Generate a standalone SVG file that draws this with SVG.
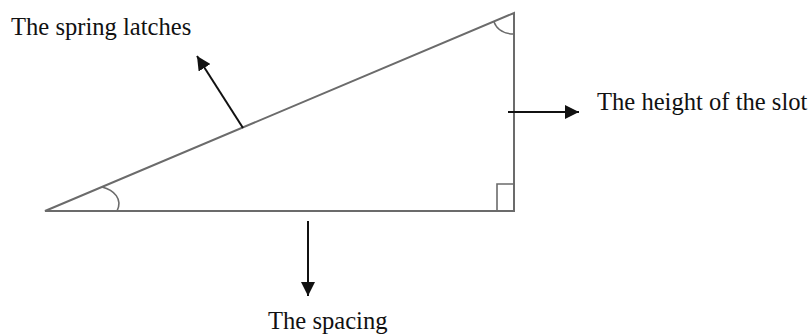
<svg xmlns="http://www.w3.org/2000/svg" width="809" height="336" viewBox="0 0 809 336">
<style>
.shape{fill:none;stroke:#6b6b6b;stroke-width:2}
.thin{fill:none;stroke:#6b6b6b;stroke-width:1.6}
.conn{fill:none;stroke:#111;stroke-width:2}
.lbl{font-family:"Liberation Serif","Times New Roman",serif;font-size:24.6px;fill:#111}
</style>
<defs>
<marker id="ah" markerUnits="userSpaceOnUse" markerWidth="16" markerHeight="14" refX="14" refY="7" orient="auto">
<path d="M0,0 L14,7 L0,14 Z" fill="#111"/>
</marker>
</defs>
<rect width="809" height="336" fill="#fff"/>
<g id="triangle">
<path class="shape" d="M45,211 L514,211 L514,13 Z"/>
<path class="thin" d="M102,187 C114,190 123,199 117,211"/>
<path class="thin" d="M494,22 C497,30 505,34 514,34"/>
<path class="thin" d="M514,184 L497,184 L497,211"/>
</g>
<g id="connectors">
<line class="conn" x1="243" y1="128" x2="197" y2="56" marker-end="url(#ah)"/>
<line class="conn" x1="508" y1="112" x2="579" y2="112" marker-end="url(#ah)"/>
<line class="conn" x1="308" y1="221" x2="308" y2="296" marker-end="url(#ah)"/>
</g>
<g id="label-spring"><text class="lbl" x="11" y="35">The spring latches</text></g>
<g id="label-height"><text class="lbl" x="597" y="110">The height of the slot</text></g>
<g id="label-spacing"><text class="lbl" x="268" y="329">The spacing</text></g>
</svg>
